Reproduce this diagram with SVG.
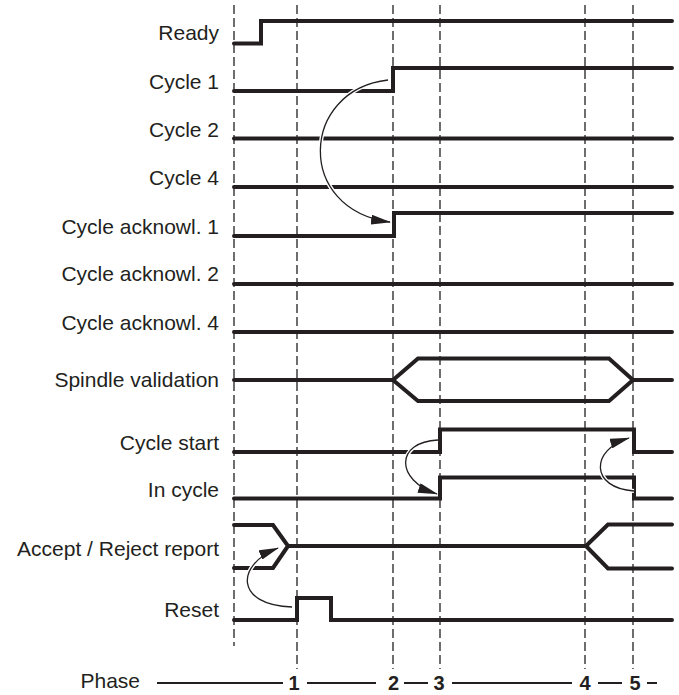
<svg xmlns="http://www.w3.org/2000/svg" width="679" height="695" viewBox="0 0 679 695">
<style>
.bg{fill:#ffffff}
.lbl{font-family:"Liberation Sans",Arial,sans-serif;font-size:21px;fill:#231f20;text-anchor:end}
.ph{font-family:"Liberation Sans",Arial,sans-serif;font-size:20px;font-weight:bold;fill:#231f20;text-anchor:middle}
.phl{font-family:"Liberation Sans",Arial,sans-serif;font-size:21px;fill:#231f20;text-anchor:end}
.grid{stroke:#231f20;stroke-width:1.3;stroke-dasharray:9 4;fill:none}
.sig{stroke:#231f20;stroke-width:4;fill:none;stroke-linecap:round;stroke-linejoin:miter}
.halo{stroke:#ffffff;stroke-width:4;fill:none}
.arr{stroke:#231f20;stroke-width:1.3;fill:none}
.pline{stroke:#231f20;stroke-width:2;fill:none}
</style>
<defs>
<marker id="ah" viewBox="0 0 20 10" refX="19" refY="5" markerWidth="20" markerHeight="10" markerUnits="userSpaceOnUse" orient="auto">
<path d="M0,0 L20,5 L0,10 Z" fill="#231f20"/>
</marker>
</defs>
<rect class="bg" x="0" y="0" width="679" height="695"/>
<g id="grid">
<line class="grid" x1="234" y1="5" x2="234" y2="646"/>
<line class="grid" x1="297" y1="5" x2="297" y2="669"/>
<line class="grid" x1="393" y1="5" x2="393" y2="669"/>
<line class="grid" x1="440" y1="5" x2="440" y2="669"/>
<line class="grid" x1="585" y1="5" x2="585" y2="669"/>
<line class="grid" x1="633" y1="5" x2="633" y2="669"/>
</g>
<g id="ready"><text class="lbl" x="219" y="40">Ready</text><path class="sig" d="M234,43.5 H261 V21 H672"/></g>
<g id="cycle1"><text class="lbl" x="219" y="89">Cycle 1</text><path class="sig" d="M234,91 H393 V68 H672"/></g>
<g id="cycle2"><text class="lbl" x="219" y="137">Cycle 2</text><path class="sig" d="M234,138.5 H672"/></g>
<g id="cycle4"><text class="lbl" x="219" y="185">Cycle 4</text><path class="sig" d="M234,187 H672"/></g>
<g id="ack1"><text class="lbl" x="219" y="233.5">Cycle acknowl. 1</text><path class="sig" d="M234,236 H394 V213 H672"/></g>
<g id="ack2"><text class="lbl" x="219" y="281">Cycle acknowl. 2</text><path class="sig" d="M234,284 H672"/></g>
<g id="ack4"><text class="lbl" x="219" y="329.5">Cycle acknowl. 4</text><path class="sig" d="M234,332 H672"/></g>
<g id="spindle"><text class="lbl" x="219" y="387">Spindle validation</text><path class="sig" d="M234,380 H393 L418,358.5 H609 L633,380 H672 M393,380 L418,401 H609 L633,380"/></g>
<g id="cyclestart"><text class="lbl" x="219" y="449.5">Cycle start</text><path class="sig" d="M234,452 H440 V429.5 H634 V452 H672"/></g>
<g id="incycle"><text class="lbl" x="219" y="496.5">In cycle</text><path class="sig" d="M234,498.5 H440 V477.5 H634 V498.5 H672"/></g>
<g id="acceptreject"><text class="lbl" x="219" y="556">Accept / Reject report</text><path class="sig" d="M234,525 H273 L288,546 H586 L608,524.5 H672 M234,568 H273 L288,546 M586,546 L608,568.5 H672"/></g>
<g id="reset"><text class="lbl" x="219" y="617">Reset</text><path class="sig" d="M234,620 H297 V598 H331 V620 H672"/></g>
<g id="connectors">
<path class="halo" d="M388,80 C300,90 295,210 390,222"/>
<path class="arr" d="M388,80 C300,90 295,210 390,222" marker-end="url(#ah)"/>
<path class="halo" d="M438,440 C395,442 395,480 437,494"/>
<path class="arr" d="M438,440 C395,442 395,480 437,494" marker-end="url(#ah)"/>
<path class="halo" d="M634,491 C590,488 590,450 629,438"/>
<path class="arr" d="M634,491 C590,488 590,450 629,438" marker-end="url(#ah)"/>
<path class="halo" d="M292,607 C235,605 235,565 278,548"/>
<path class="arr" d="M292,607 C235,605 235,565 278,548" marker-end="url(#ah)"/>
</g>
<g id="phase">
<text class="phl" x="140" y="688">Phase</text>
<path class="pline" d="M157,683 H283 M307,683 H376 M404,683 H428 M452,683 H572 M598,683 H622 M647,683 H657"/>
<text class="ph" x="294" y="690">1</text>
<text class="ph" x="393.5" y="690">2</text>
<text class="ph" x="439" y="690">3</text>
<text class="ph" x="585" y="690">4</text>
<text class="ph" x="635" y="690">5</text>
</g>
</svg>
